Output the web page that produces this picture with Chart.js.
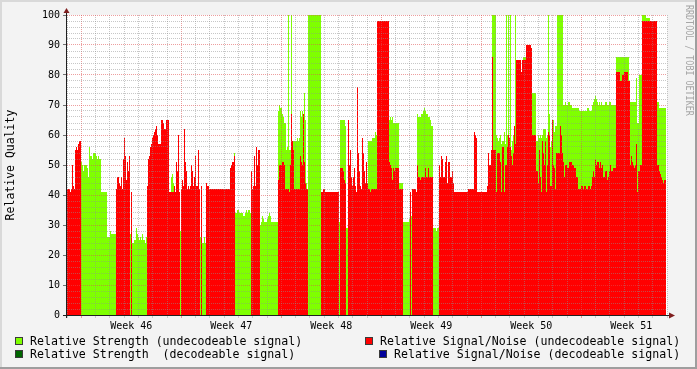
<!DOCTYPE html>
<html>
<head>
<meta charset="utf-8">
<title>Relative Quality</title>
<script src="https://cdn.jsdelivr.net/npm/chart.js@4.4.1/dist/chart.umd.min.js"></script>
<style>
html,body{margin:0;padding:0;background:#F3F3F3;overflow:hidden;}
canvas{display:block;}
</style>
</head>
<body>
<canvas id="chart" width="697" height="369"></canvas>
<script>
// ---- time axis: 42 days shown as 600 RRD steps ----
const TOTAL_DAYS = 42;
const TOTAL_STEPS = 600;
const weekLabels = ['Week 46', 'Week 47', 'Week 48', 'Week 49', 'Week 50', 'Week 51'];
const weekStartDays = [1, 8, 15, 22, 29, 36];

// ---- series labels / colours ----
const seriesLabels = [
  'Relative Strength (undecodeable signal)',
  'Relative Strength  (decodeable signal)',
  'Relative Signal/Noise (undecodeable signal)',
  'Relative Signal/Noise (decodeable signal)'
];
const seriesColors = ['#7FFF00', '#006600', '#FF0000', '#000099'];

// ---- Relative Strength (undecodeable): step index where value starts, value ----
const strengthUndecSteps = [
  0,14,15,16,17,20,21,22,23,25,
  26,29,30,31,32,34,40,43,44,49,
  63,64,65,67,69,70,71,72,73,74,
  75,76,78,79,80,104,105,106,107,113,
  114,133,134,135,137,138,139,167,168,170,
  172,176,178,179,180,181,183,184,193,194,
  195,196,197,200,201,202,203,204,211,212,
  213,215,216,217,219,220,221,222,224,225,
  230,231,232,233,234,235,236,237,238,239,
  240,241,254,272,273,278,279,281,301,305,
  308,309,310,322,323,324,325,326,332,336,
  342,343,344,345,350,351,354,356,357,358,
  359,361,363,364,366,369,370,372,425,429,
  430,431,432,433,434,435,437,438,439,440,
  441,442,443,444,445,446,447,448,449,456,
  459,465,469,471,472,473,474,475,476,479,
  480,481,482,483,484,485,486,487,488,490,
  496,498,499,501,503,505,512,520,522,525,
  526,527,528,529,530,531,532,533,534,535,
  538,540,542,544,549,562,569,570,572,575,
  579,583,590,592,599
];
const strengthUndecValues = [
  0,51,50,48,50,49,46,56,53,52,
  54,53,52,53,52,41,26,28,27,0,
  27,0,24,25,29,27,26,25,26,25,
  27,25,24,26,0,46,47,44,0,28,
  0,26,0,24,26,24,0,54,34,35,
  34,33,34,35,34,35,34,0,30,31,
  33,32,31,32,33,34,33,31,68,70,
  69,67,66,64,55,56,100,55,100,58,
  59,58,59,68,66,68,66,74,65,44,
  0,100,0,31,65,63,29,0,58,59,
  61,60,0,65,66,65,66,64,44,31,
  32,0,33,0,67,66,67,68,69,68,
  67,66,65,63,29,28,29,0,100,60,
  59,58,59,60,57,58,61,57,100,60,
  100,58,100,55,58,60,0,100,0,86,
  0,74,58,60,59,60,59,60,62,59,
  60,100,67,56,58,61,65,61,63,100,
  70,71,70,71,70,69,68,69,68,70,
  71,72,73,72,71,70,71,70,71,70,
  71,70,71,70,86,71,79,64,80,100,
  99,0,71,69,69
];

// ---- Relative Signal/Noise (undecodeable) ----
const snrUndecSteps = [
  0,3,4,5,6,7,8,9,10,11,
  12,14,49,50,52,53,54,55,56,57,
  58,59,60,61,62,63,64,65,80,81,
  82,83,84,85,86,87,88,89,90,91,
  94,96,97,99,102,107,108,109,110,111,
  112,113,114,115,116,117,118,119,120,121,
  122,123,124,125,126,127,128,129,131,132,
  133,134,135,139,140,142,163,164,165,167,
  168,184,185,186,187,188,189,190,191,193,
  211,212,215,217,218,222,223,224,225,226,
  227,233,234,235,236,237,238,239,241,254,
  256,258,272,273,276,277,278,279,281,282,
  283,284,285,286,287,288,289,290,291,292,
  293,294,295,296,297,298,299,300,301,303,
  304,310,322,323,324,325,326,327,328,332,
  336,343,344,345,349,350,351,353,354,358,
  359,361,362,366,372,373,374,375,376,378,
  379,380,381,383,385,386,387,401,407,408,
  409,410,420,421,422,424,425,426,429,430,
  433,434,435,437,438,440,441,442,443,444,
  445,446,447,448,449,454,455,459,464,465,
  469,471,472,473,474,475,476,477,478,479,
  480,481,482,483,485,486,487,488,489,493,
  494,495,496,497,498,500,502,505,507,509,
  511,514,516,517,519,521,523,524,525,526,
  527,528,529,530,532,533,534,535,536,538,
  540,541,542,543,544,546,549,553,555,557,
  561,563,564,565,566,567,568,569,570,571,
  573,575,590,592,593,594,595,596,597,599
];
const snrUndecValues = [
  42,41,42,50,43,42,55,56,55,57,
  58,0,42,46,44,43,46,42,52,59,
  53,45,51,48,53,0,41,0,43,52,
  53,56,57,59,60,61,62,63,60,57,
  65,64,62,65,41,43,41,51,48,60,
  41,0,42,45,43,62,51,48,42,43,
  42,43,50,48,43,46,53,43,55,42,
  0,43,0,44,43,42,49,50,51,53,
  0,48,42,43,53,43,56,50,55,0,
  45,50,51,50,42,41,50,67,58,55,
  42,53,51,50,67,51,44,42,0,41,
  42,41,0,49,48,45,44,0,65,50,
  55,46,43,46,49,43,41,76,54,48,
  43,42,59,54,48,44,51,44,42,41,
  42,98,51,50,49,45,49,48,49,42,
  0,41,0,42,41,50,46,45,46,49,
  46,49,46,0,50,46,53,52,46,51,
  53,44,51,46,48,44,41,42,61,60,
  59,41,43,54,50,55,86,55,41,54,
  51,41,56,41,50,56,60,59,56,53,
  50,54,63,57,85,81,85,90,89,60,
  48,44,55,46,41,58,54,50,58,41,
  50,61,60,43,65,50,49,42,54,63,
  60,54,51,46,50,49,51,50,49,46,
  42,43,42,43,42,43,42,43,46,48,
  46,52,50,51,49,51,49,50,46,48,
  45,46,48,50,48,49,81,78,80,81,
  78,50,53,51,50,49,50,57,41,48,
  50,98,50,48,47,46,45,44,45,45
];

// ---- decodeable series (no data above zero in this period) ----
const strengthDecSteps = [0, 599];
const strengthDecValues = [0, 0];
const snrDecSteps = [0, 599];
const snrDecValues = [0, 0];

const FONT = '"DejaVu Sans Mono", "Liberation Mono", monospace';
const GRID = 'rgba(143,143,143,0.5)';
const MGRID = 'rgba(222,79,79,0.55)';
const STEPS_PER_DAY = TOTAL_STEPS / TOTAL_DAYS;

const toPoints = (steps, values) => steps.map((s, i) => ({x: s, y: values[i]}));

function areaDataset(label, color, steps, values, order) {
  return {
    label: label,
    data: toPoints(steps, values),
    backgroundColor: color,
    borderColor: 'rgba(0,0,0,0)',
    borderWidth: 0,
    pointRadius: 0,
    fill: 'origin',
    stepped: true,
    order: order
  };
}

const isClose = (a, b) => Math.abs(a - b) < 1e-6;
const isWeekTick = v => weekStartDays.some(d => isClose(d * STEPS_PER_DAY, v));
const labelIndex = v => weekStartDays.findIndex(d => isClose((d + 3.5) * STEPS_PER_DAY, v));

const rrdFrame = {
  id: 'rrdFrame',
  beforeDraw(chart) {
    const {ctx, width, height, chartArea: a} = chart;
    ctx.save();
    ctx.fillStyle = '#F3F3F3';
    ctx.fillRect(0, 0, width, height);
    ctx.fillStyle = '#D9D9D9';
    ctx.fillRect(0, 0, width, 2);
    ctx.fillRect(0, 0, 2, height);
    ctx.fillStyle = '#9E9E9E';
    ctx.fillRect(0, height - 2, width, 2);
    ctx.fillRect(width - 2, 0, 2, height);
    ctx.fillStyle = '#FFFFFF';
    ctx.fillRect(a.left, a.top, a.right - a.left, a.bottom - a.top);
    ctx.restore();
  },
  afterDraw(chart) {
    const {ctx, chartArea: a} = chart;
    ctx.save();
    // axis lines
    ctx.strokeStyle = '#202020';
    ctx.lineWidth = 1;
    ctx.beginPath();
    ctx.moveTo(a.left - 4, a.bottom + 0.5);
    ctx.lineTo(a.right + 3, a.bottom + 0.5);
    ctx.moveTo(a.left - 0.5, a.bottom + 3);
    ctx.lineTo(a.left - 0.5, a.top - 3);
    ctx.stroke();
    // arrows
    ctx.fillStyle = '#7F1F1F';
    ctx.beginPath();
    ctx.moveTo(a.right + 8, a.bottom + 0.5);
    ctx.lineTo(a.right + 2, a.bottom - 2.5);
    ctx.lineTo(a.right + 2, a.bottom + 3.5);
    ctx.closePath();
    ctx.fill();
    ctx.beginPath();
    ctx.moveTo(a.left - 0.5, a.top - 7);
    ctx.lineTo(a.left - 3.5, a.top - 2);
    ctx.lineTo(a.left + 2.5, a.top - 2);
    ctx.closePath();
    ctx.fill();

    // legend
    const items = [
      {i: 0, box: 15, text: 30, base: 345},
      {i: 2, box: 365, text: 380, base: 345},
      {i: 1, box: 15, text: 30, base: 358},
      {i: 3, box: 379, text: 394, base: 358}
    ];
    ctx.font = '11.6px ' + FONT;
    ctx.textBaseline = 'alphabetic';
    ctx.textAlign = 'left';
    items.forEach(it => {
      ctx.fillStyle = seriesColors[it.i];
      ctx.fillRect(it.box, it.base - 8, 8, 8);
      ctx.strokeStyle = '#3A3A3A';
      ctx.strokeRect(it.box + 0.5, it.base - 7.5, 7, 7);
      ctx.fillStyle = '#000000';
      ctx.fillText(seriesLabels[it.i], it.text, it.base);
    });

    // watermark
    ctx.translate(689, 5);
    ctx.rotate(Math.PI / 2);
    ctx.scale(0.76, 1);
    ctx.font = '11px ' + FONT;
    ctx.fillStyle = '#A6A6A6';
    ctx.textBaseline = 'middle';
    ctx.fillText('RRDTOOL / TOBI OETIKER', 0, 0);
    ctx.restore();
  }
};

new Chart(document.getElementById('chart'), {
  type: 'line',
  data: {
    datasets: [
      areaDataset(seriesLabels[0], seriesColors[0], strengthUndecSteps, strengthUndecValues, 3),
      areaDataset(seriesLabels[1], seriesColors[1], strengthDecSteps, strengthDecValues, 2),
      areaDataset(seriesLabels[2], seriesColors[2], snrUndecSteps, snrUndecValues, 1),
      areaDataset(seriesLabels[3], seriesColors[3], snrDecSteps, snrDecValues, 0)
    ]
  },
  options: {
    responsive: false,
    animation: false,
    events: [],
    parsing: false,
    layout: {padding: {left: 0, top: 15, right: 30, bottom: 0}},
    plugins: {legend: {display: false}, tooltip: {enabled: false}, title: {display: false}},
    scales: {
      x: {
        type: 'linear',
        min: 0,
        max: TOTAL_STEPS,
        afterFit: s => { s.height = 54; },
        afterBuildTicks: s => {
          const t = [];
          for (let d = 0; d <= TOTAL_DAYS; d++) t.push({value: d * STEPS_PER_DAY});
          weekStartDays.forEach(d => t.push({value: (d + 3.5) * STEPS_PER_DAY}));
          t.sort((p, q) => p.value - q.value);
          s.ticks = t;
        },
        grid: {
          z: 1,
          lineWidth: 1,
          drawTicks: true,
          tickLength: 3,
          color: c => labelIndex(c.tick.value) >= 0 ? 'rgba(0,0,0,0)' : (isWeekTick(c.tick.value) ? MGRID : GRID),
          tickColor: c => labelIndex(c.tick.value) >= 0 ? 'rgba(0,0,0,0)' : (isWeekTick(c.tick.value) ? MGRID : 'rgba(143,143,143,0.4)')
        },
        border: {display: false, dash: [1, 1]},
        ticks: {
          autoSkip: false,
          maxRotation: 0,
          minRotation: 0,
          padding: 2,
          color: '#000',
          font: {family: FONT, size: 10},
          callback: v => { const k = labelIndex(v); return k >= 0 ? weekLabels[k] : ''; }
        }
      },
      y: {
        min: 0,
        max: 100,
        afterFit: s => { s.width = 67; },
        grid: {
          z: 1,
          lineWidth: 1,
          drawTicks: true,
          tickLength: 4,
          color: c => c.tick.value % 10 === 0 ? MGRID : GRID,
          tickColor: c => c.tick.value % 10 === 0 ? '#707070' : 'rgba(0,0,0,0)'
        },
        border: {display: false, dash: [1, 1]},
        ticks: {
          stepSize: 2,
          autoSkip: false,
          padding: 3,
          color: '#000',
          font: {family: FONT, size: 10},
          callback: v => v % 10 === 0 ? String(v) : ''
        },
        title: {
          display: true,
          text: 'Relative Quality',
          color: '#000',
          font: {family: FONT, size: 11.5},
          padding: {top: 4, bottom: 0}
        }
      }
    }
  },
  plugins: [rrdFrame]
});
</script>
</body>
</html>
